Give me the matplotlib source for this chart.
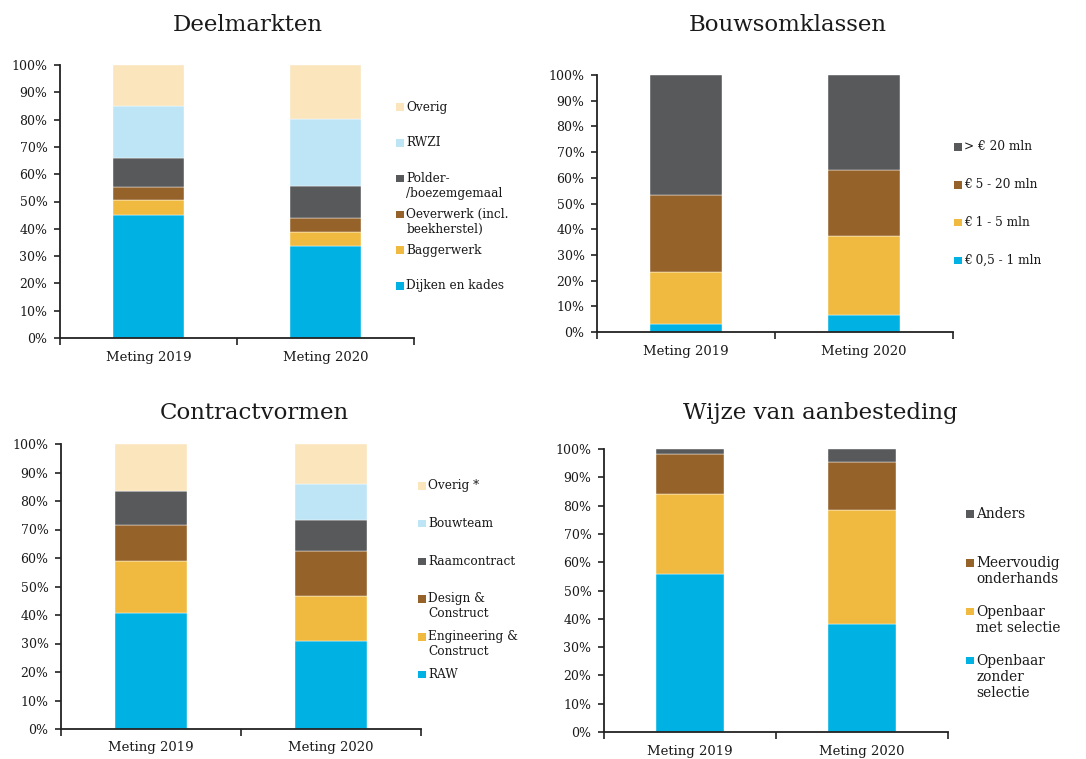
import numpy as np
import matplotlib
matplotlib.use("Agg")
import matplotlib.pyplot as plt
from matplotlib.patches import Rectangle
from matplotlib.ticker import PercentFormatter

plt.rcParams['font.family'] = ['DejaVu Serif']
plt.rcParams['text.color'] = '#1a1a1a'
plt.rcParams['xtick.labelcolor'] = '#1a1a1a'
plt.rcParams['ytick.labelcolor'] = '#1a1a1a'

W, H = 1086, 759

# kleuren
BLUE = '#00B2E3'
YELLOW = '#F0BA41'
BROWN = '#95622A'
GREY = '#58595B'
LIGHTBLUE = '#BDE5F6'
CREAM = '#FBE5BD'

metingen = ['Meting 2019', 'Meting 2020']

# Deelmarkten (percentages, van onder naar boven)
deel_labels = ['Dijken en kades', 'Baggerwerk', 'Oeverwerk (incl.\nbeekherstel)',
               'Polder-\n/boezemgemaal', 'RWZI', 'Overig']
deel_2019 = [45.2, 5.2, 4.8, 10.7, 18.9, 15.2]
deel_2020 = [33.7, 5.0, 5.2, 11.8, 24.7, 19.6]
deel_colors = [BLUE, YELLOW, BROWN, GREY, LIGHTBLUE, CREAM]

# Bouwsomklassen
bouw_labels = ['€ 0,5 - 1 mln', '€ 1 - 5 mln', '€ 5 - 20 mln', '> € 20 mln']
bouw_2019 = [3.0, 20.2, 30.0, 46.8]
bouw_2020 = [6.5, 30.8, 25.6, 37.1]
bouw_colors = [BLUE, YELLOW, BROWN, GREY]

# Contractvormen
contr_labels = ['RAW', 'Engineering &\nConstruct', 'Design &\nConstruct',
                'Raamcontract', 'Bouwteam', 'Overig *']
contr_2019 = [40.7, 18.4, 12.4, 12.0, 0.0, 16.5]
contr_2020 = [31.0, 15.8, 15.6, 10.8, 12.6, 14.2]
contr_colors = [BLUE, YELLOW, BROWN, GREY, LIGHTBLUE, CREAM]

# Wijze van aanbesteding
aanb_labels = ['Openbaar\nzonder\nselectie', 'Openbaar\nmet selectie',
               'Meervoudig\nonderhands', 'Anders']
aanb_2019 = [55.9, 28.3, 14.2, 1.6]
aanb_2020 = [38.0, 40.4, 17.0, 4.6]
aanb_colors = [BLUE, YELLOW, BROWN, GREY]


def px_axes(fig, left, right, top, bottom):
    return fig.add_axes([left / W, 1 - bottom / H, (right - left) / W, (bottom - top) / H])


def stacked(ax, v2019, v2020, colors):
    x = np.arange(len(metingen))
    data = np.array([v2019, v2020]).T
    bottom = np.zeros(len(metingen))
    for vals, c in zip(data, colors):
        ax.bar(x, vals, 0.4, bottom=bottom, color=c, edgecolor='white', linewidth=0.3)
        bottom += vals
    ax.set_xlim(-0.5, 1.5)
    ax.set_ylim(0, 100)
    ax.set_yticks(np.arange(0, 101, 10))
    ax.yaxis.set_major_formatter(PercentFormatter(decimals=0))
    ax.set_xticks(x)
    ax.set_xticklabels(metingen, fontsize=9.5)
    ax.set_xticks([-0.5, 0.5, 1.5], minor=True)
    ax.tick_params(axis='x', which='major', length=0, pad=9)
    ax.tick_params(axis='x', which='minor', length=5, width=1.2, color='#222222')
    ax.tick_params(axis='y', length=4, width=1.2, color='#222222', labelsize=9, pad=5)
    for s in ['top', 'right']:
        ax.spines[s].set_visible(False)
    for s in ['left', 'bottom']:
        ax.spines[s].set_color('#222222')
        ax.spines[s].set_linewidth(1.3)


def legend(fig, labels, colors, xsq, y0, step, fs):
    line = fs * 100 / 72 * 1.2
    sq = 7.5
    for i, (lab, c) in enumerate(reversed(list(zip(labels, colors)))):
        yc = y0 + i * step
        fig.add_artist(Rectangle(((xsq) / W, 1 - (yc + sq / 2) / H), sq / W, sq / H,
                                 transform=fig.transFigure, color=c, lw=0))
        n = lab.count('\n')
        fig.text((xsq + sq + 3) / W, 1 - (yc + n * line / 2) / H, lab,
                 fontsize=fs, va='center', ha='left')


fig = plt.figure(figsize=(W / 100, H / 100), dpi=100)

ax1 = px_axes(fig, 60, 414, 65, 338)
stacked(ax1, deel_2019, deel_2020, deel_colors)
fig.text(248 / W, 1 - 25 / H, 'Deelmarkten', fontsize=16.5, ha='center', va='center')
legend(fig, deel_labels, deel_colors, 396, 107, 35.8, 8.7)

ax2 = px_axes(fig, 597, 953, 75, 332)
stacked(ax2, bouw_2019, bouw_2020, bouw_colors)
fig.text(788 / W, 1 - 25 / H, 'Bouwsomklassen', fontsize=16.5, ha='center', va='center')
legend(fig, bouw_labels, bouw_colors, 954, 147, 37.8, 8.7)

ax3 = px_axes(fig, 61, 421, 444, 729)
stacked(ax3, contr_2019, contr_2020, contr_colors)
fig.text(254 / W, 1 - 413 / H, 'Contractvormen', fontsize=16.5, ha='center', va='center')
legend(fig, contr_labels, contr_colors, 418, 486, 37.7, 8.7)

ax4 = px_axes(fig, 604, 948, 449, 732)
stacked(ax4, aanb_2019, aanb_2020, aanb_colors)
fig.text(820 / W, 1 - 413 / H, 'Wijze van aanbesteding', fontsize=16.5, ha='center', va='center')
legend(fig, aanb_labels, aanb_colors, 966, 514, 48.8, 9.9)

fig.savefig('out.png', dpi=100)
